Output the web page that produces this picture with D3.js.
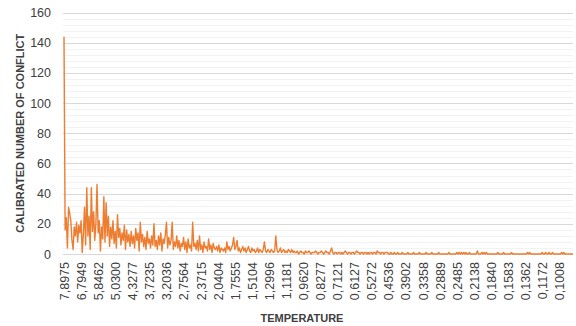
<!DOCTYPE html>
<html>
<head>
<meta charset="utf-8">
<script src="https://cdn.jsdelivr.net/npm/d3@7"></script>
<style>
  body { margin: 0; background: #fff; }
  svg text { font-family: "Liberation Sans", Arial, sans-serif; fill: #404040; }
</style>
</head>
<body>
<div id="chart"></div>
<script>
var width = 576,
    height = 326,
    margin = { top: 12.5, right: 3, bottom: 72, left: 64 };

// calibrated number of conflict per temperature step
var conflicts = [
  144, 16, 24, 4, 31, 27, 22, 9, 3, 18, 12, 21, 8, 19, 14, 22, 1, 13, 31, 6,
  44, 12, 25, 3, 44, 15, 28, 9, 20, 46, 14, 22, 2, 18, 10, 38, 8, 34, 12, 25,
  5, 18, 10, 22, 7, 15, 4, 26, 11, 17, 6, 14, 9, 19, 3, 16, 8, 13, 5, 15,
  7, 12, 4, 17, 9, 14, 2, 21, 8, 13, 5, 11, 3, 15, 7, 10, 4, 12, 6, 20,
  5, 9, 3, 12, 6, 14, 2, 10, 7, 13, 21, 4, 11, 6, 9, 21, 3, 8, 5, 12,
  4, 9, 2, 7, 5, 11, 3, 8, 1, 10, 4, 6, 2, 21, 5, 7, 3, 9, 2, 12,
  3, 6, 1, 8, 4, 5, 2, 10, 3, 6, 1, 7, 4, 3, 5, 2, 6, 1, 4, 3,
  2, 4, 1, 8, 3, 5, 2, 4, 6, 11, 3, 5, 9, 2, 4, 1, 3, 5, 2, 4,
  1, 3, 5, 2, 1, 4, 2, 3, 1, 2, 4, 1, 3, 2, 1, 3, 8, 2, 1, 3,
  2, 1, 3, 2, 1, 2, 12, 3, 1, 2, 4, 1, 2, 3, 1, 2, 1, 3, 2, 1,
  3, 1, 2, 1, 1, 2, 0, 1, 2, 1, 1, 0, 2, 1, 1, 2, 1, 0, 1, 1,
  1, 2, 1, 0, 1, 1, 2, 1, 0, 1, 2, 1, 1, 0, 2, 4, 1, 0, 1, 1,
  0, 1, 1, 0, 1, 0, 1, 2, 1, 0, 1, 1, 0, 1, 1, 0, 1, 2, 1, 1,
  0, 1, 1, 0, 1, 1, 0, 1, 0, 1, 1, 0, 1, 1, 0, 2, 1, 1, 0, 1,
  1, 0, 1, 1, 1, 0, 0, 1, 0, 0, 1, 0, 0, 1, 0, 0, 0, 1, 0, 0,
  0, 0, 1, 0, 0, 0, 0, 1, 0, 0, 0, 0, 1, 0, 0, 0, 0, 0, 1, 0,
  0, 0, 0, 1, 0, 0, 0, 0, 0, 1, 0, 0, 0, 0, 0, 0, 0, 0, 1, 0,
  0, 0, 0, 0, 0, 1, 0, 1, 0, 1, 0, 1, 0, 1, 0, 0, 1, 0, 0, 0,
  0, 0, 0, 2, 0, 0, 0, 1, 0, 1, 0, 1, 0, 0, 0, 0, 0, 0, 0, 0,
  0, 1, 0, 0, 0, 0, 1, 0, 0, 0, 0, 0, 0, 1, 0, 0, 0, 0, 0, 0,
  0, 0, 0, 0, 0, 0, 0, 1, 0, 1, 0, 0, 0, 0, 0, 0, 0, 0, 0, 0,
  1, 0, 0, 1, 0, 0, 1, 0, 0, 1, 0, 0, 0, 0, 0, 0, 0, 1, 0, 1,
  0, 0, 0, 0, 0, 0, 0, 0
];

// temperature labels shown on the category axis, one every labelStep points
var tempLabels = ['7,8975', '6,7949', '5,8462', '5,0300', '4,3277', '3,7235', '3,2036', '2,7564',
  '2,3715', '2,0404', '1,7555', '1,5104', '1,2996', '1,1181', '0,9620', '0,8277', '0,7121',
  '0,6127', '0,5272', '0,4536', '0,3902', '0,3358', '0,2889', '0,2485', '0,2138', '0,1840',
  '0,1583', '0,1362', '0,1172', '0,1008'];
var labelStep = 15;

var yMajor = d3.range(0, 161, 20),
    yMinor = d3.range(0, 161, 4);

var svg = d3.select('#chart').append('svg')
    .attr('width', width)
    .attr('height', height);

var x = d3.scaleLinear()
    .domain([0, conflicts.length - 1])
    .range([margin.left, width - margin.right]);

var y = d3.scaleLinear()
    .domain([0, 160])
    .range([height - margin.bottom, margin.top]);

// minor then major gridlines
svg.append('g').selectAll('line.minor').data(yMinor.filter(function (d) { return d % 20; }))
  .enter().append('line')
    .attr('class', 'minor')
    .attr('x1', margin.left - 1).attr('x2', width - margin.right)
    .attr('y1', function (d) { return Math.round(y(d)) + 0.5; })
    .attr('y2', function (d) { return Math.round(y(d)) + 0.5; })
    .attr('stroke', '#f2f2f2');

svg.append('g').selectAll('line.major').data(yMajor)
  .enter().append('line')
    .attr('class', 'major')
    .attr('x1', margin.left - 1).attr('x2', width - margin.right)
    .attr('y1', function (d) { return Math.round(y(d)) + 0.5; })
    .attr('y2', function (d) { return Math.round(y(d)) + 0.5; })
    .attr('stroke', '#d9d9d9');

// y axis labels
var yAxis = svg.append('g')
    .attr('transform', 'translate(' + (margin.left - 1) + ',0)')
    .call(d3.axisLeft(y).tickValues(yMajor).tickSize(0).tickPadding(12));
yAxis.select('.domain').remove();
yAxis.selectAll('text').style('font-size', '12.5px').attr('fill', '#404040');

// x axis
var xAxis = svg.append('g')
    .attr('transform', 'translate(0,' + (height - margin.bottom) + ')')
    .call(d3.axisBottom(x)
      .tickValues(d3.range(0, tempLabels.length).map(function (k) { return k * labelStep; }))
      .tickFormat(function (d) { return tempLabels[d / labelStep]; })
      .tickSize(0));
xAxis.select('.domain').attr('stroke', '#d9d9d9');
xAxis.selectAll('text')
    .style('font-size', '12.5px')
    .attr('fill', '#404040')
    .attr('text-anchor', 'end')
    .attr('transform', 'rotate(-90)')
    .attr('x', -8)
    .attr('y', 0)
    .attr('dy', '0.35em');

// the series
var line = d3.line()
    .x(function (d, i) { return x(i); })
    .y(function (d) { return y(d); });

svg.append('path')
    .datum(conflicts)
    .attr('d', line)
    .attr('fill', 'none')
    .attr('stroke', '#ed7d31')
    .attr('stroke-width', 1.4)
    .attr('stroke-linejoin', 'round');

// axis titles
svg.append('text')
    .attr('transform', 'translate(24,' + (margin.top + (height - margin.bottom - margin.top) / 2) + ') rotate(-90)')
    .attr('text-anchor', 'middle')
    .style('font-size', '11px')
    .style('font-weight', 'bold')
    .attr('fill', '#262626')
    .text('CALIBRATED NUMBER OF CONFLICT');

svg.append('text')
    .attr('x', 302)
    .attr('y', 322)
    .attr('text-anchor', 'middle')
    .style('font-size', '11px')
    .style('font-weight', 'bold')
    .attr('fill', '#262626')
    .text('TEMPERATURE');
</script>
</body>
</html>
